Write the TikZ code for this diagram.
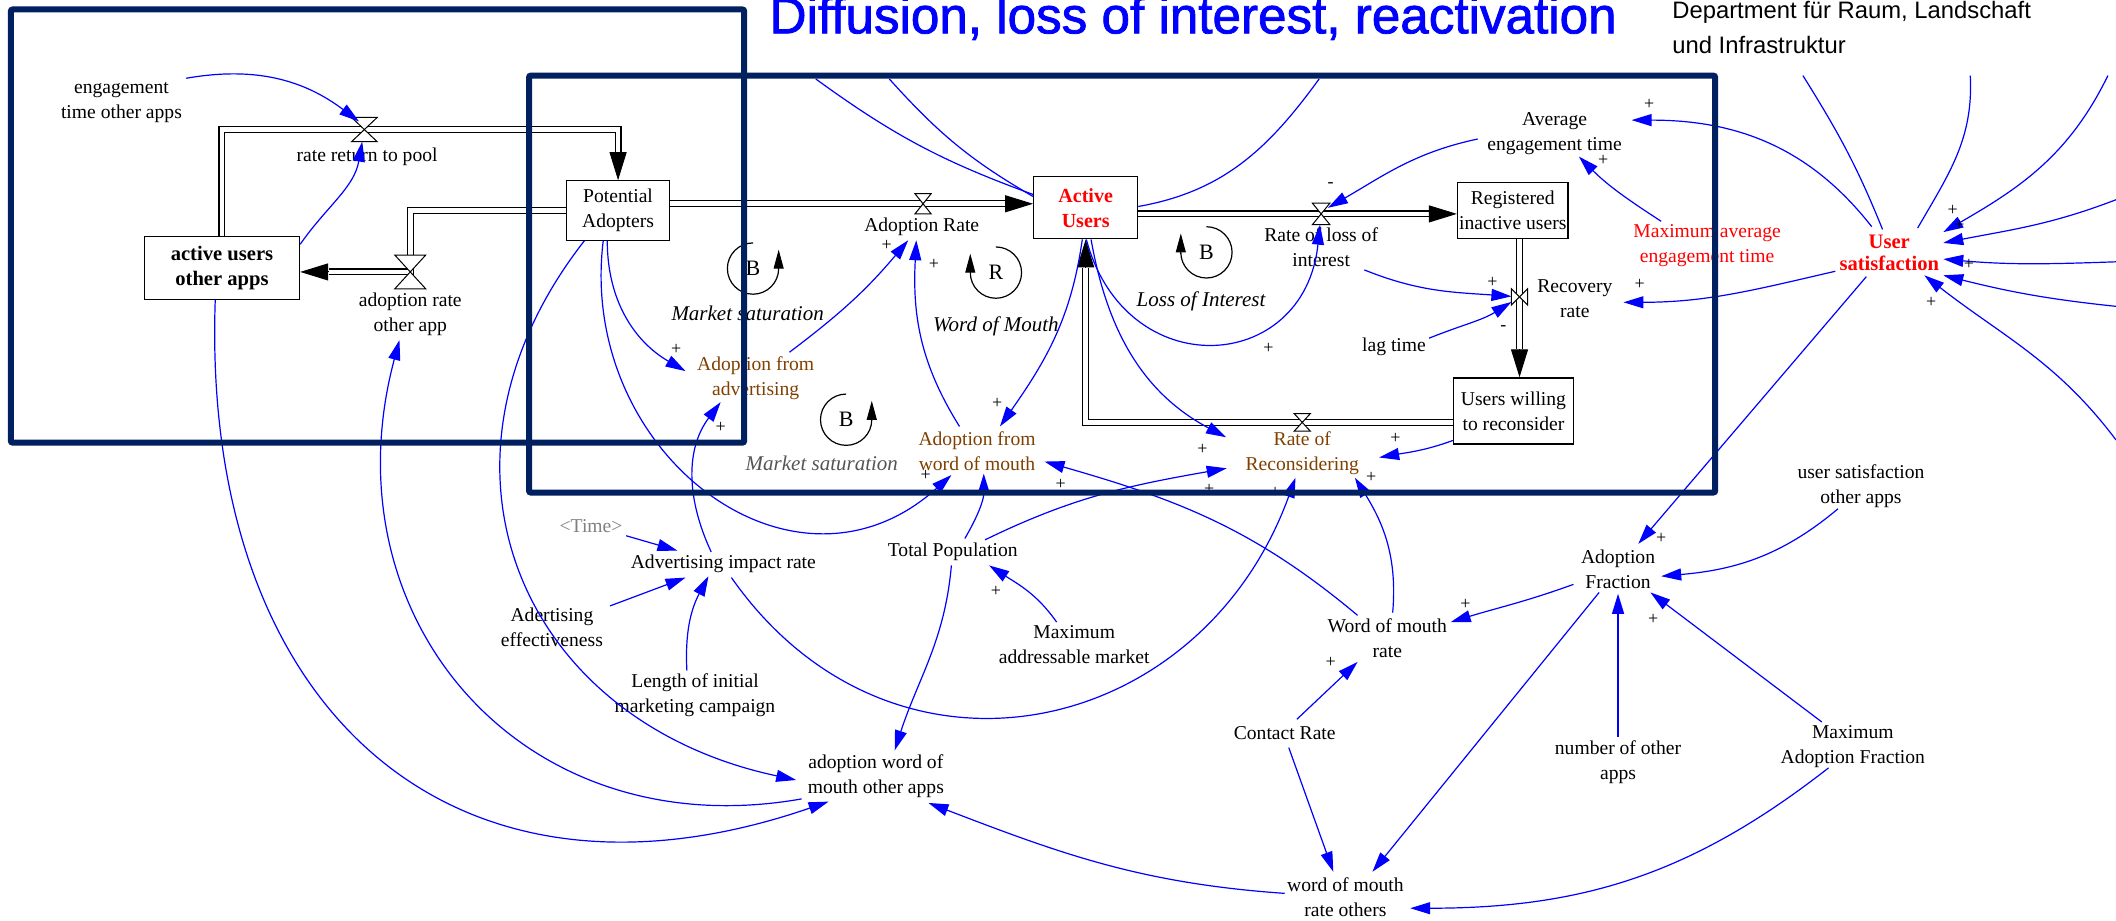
\documentclass[tikz,border=0pt]{standalone}
\usepackage{fontspec}
\setmainfont{Liberation Serif}
\newfontfamily\arialf{Liberation Sans}
\newfontfamily\titlef[FakeBold=1.5]{Liberation Sans}
\usetikzlibrary{arrows.meta,calc}
\definecolor{navyb}{RGB}{0,32,96}
\definecolor{brownv}{RGB}{128,64,0}
\definecolor{linkb}{RGB}{0,0,255}
\definecolor{timegray}{RGB}{128,128,128}
\definecolor{loopgray}{RGB}{85,85,85}
\definecolor{redv}{RGB}{255,0,0}
\tikzset{
 var/.style={font=\fontsize{9.8}{12.5}\selectfont, align=center, inner sep=1pt},
 stock/.style={draw, line width=0.6pt, align=center, inner sep=0pt, font=\fontsize{9.8}{12.5}\selectfont},
 lk/.style={draw=linkb, line width=0.6pt, -{Triangle[length=10pt,width=6pt]}},
 cl/.style={draw=linkb, line width=0.6pt},
 pipe/.style={draw=black, double=white, double distance=2.4pt, line width=0.55pt, line join=miter},
 ftip/.style={draw=black, line width=0.5pt, -{Triangle[length=14pt,width=8.5pt]}},
 valvebox/.style={inner sep=0pt, outer sep=0pt},
 valvest/.style={draw=black, fill=white, line width=0.5pt},
 pol/.style={font=\fontsize{9}{9}\selectfont, inner sep=0pt},
 looplbl/.style={font=\fontsize{10.5}{12}\selectfont\itshape, inner sep=0pt},
 loopltr/.style={font=\fontsize{11}{11}\selectfont, inner sep=0pt},
 looparc/.style={draw=black, line width=0.6pt},
 looptip/.style={draw=black, line width=0.5pt, -{Triangle[length=9.5pt,width=5pt]}},
 navybox/.style={draw=navyb, line width=3pt, rounded corners=1pt},
}
\begin{document}
\begin{tikzpicture}[x=0.67475pt, y=0.67475pt]
\useasboundingbox (0,0) rectangle (1568,-682);
\fill[white] (0,0) rectangle (1568,-682);

% ---------- title ----------
\node[anchor=base west, inner sep=0pt, text=blue, font=\titlef\fontsize{25.6}{30}\selectfont] (title) at (570,-24.7) {Diffusion, loss of interest, reactivation};
\node[anchor=base west, inner sep=0pt, font=\arialf\fontsize{11.9}{14}\selectfont] (dept1) at (1239,-13.6) {Department für Raum, Landschaft};
\node[anchor=base west, inner sep=0pt, font=\arialf\fontsize{11.9}{14}\selectfont] (dept2) at (1239,-39.5) {und Infrastruktur};

% ---------- stocks ----------
\node[stock, minimum width=77.6pt, minimum height=31.7pt, font=\fontsize{10.3}{12.5}\selectfont\bfseries] (auo) at (164.5,-198.5) {active users\\other apps};
\node[stock, minimum width=51.3pt, minimum height=29.7pt] (PA) at (458,-156) {Potential\\Adopters};
\node[stock, minimum width=52pt, minimum height=31pt, text=redv, font=\fontsize{10}{12.5}\selectfont\bfseries] (AU) at (804.5,-154) {Active\\Users};
\node[stock, minimum width=55.3pt, minimum height=28.3pt] (Reg) at (1121,-156) {Registered\\inactive users};
\node[stock, minimum width=60pt, minimum height=33pt] (UW) at (1121.5,-304.5) {Users willing\\to reconsider};

% ---------- variables ----------
\node[var] (eto) at (90,-76) {engagement\\time other apps};
\node[var] (rrp) at (272,-116) {rate return to pool};
\node[var] (adrO) at (304,-233) {adoption rate\\other app};
\node[var, text=brownv] (AfA) at (560,-280) {Adoption from\\advertising};
\node[var] (AR) at (683,-168) {Adoption Rate};
\node[var, text=brownv] (AfW) at (724,-334) {Adoption from\\word of mouth};
\node[var] (RLI) at (979,-183.5) {Rate of loss of\\interest};
\node[var] (RR) at (1167,-221) {Recovery\\rate};
\node[var] (lag) at (1033,-257) {lag time};
\node[var] (AET) at (1152,-99) {Average\\engagement time};
\node[var, text=redv] (MAET) at (1265,-182) {Maximum average\\engagement time};
\node[var, text=redv, font=\fontsize{10.3}{11}\selectfont\bfseries] (US) at (1400,-187) {User\\satisfaction};
\node[var, text=brownv] (RoR) at (965,-336) {Rate of\\Reconsidering};
\node[var, text=timegray] (Time) at (438,-390) {<Time>};
\node[var] (AIR) at (536,-418) {Advertising impact rate};
\node[var] (AE) at (409,-465) {Adertising\\effectiveness};
\node[var] (LIMC) at (515,-515) {Length of initial\\marketing campaign};
\node[var] (TP) at (706,-409) {Total Population};
\node[var] (MAM) at (796,-477.5) {Maximum\\addressable market};
\node[var] (AWO) at (649,-575.5) {adoption word of\\mouth other apps};
\node[var] (CR) at (952,-543) {Contact Rate};
\node[var] (WMR) at (1028,-473) {Word of mouth\\rate};
\node[var] (WMRO) at (997,-665) {word of mouth\\rate others};
\node[var] (USO) at (1379,-360) {user satisfaction\\other apps};
\node[var] (AF) at (1199,-422) {Adoption\\Fraction};
\node[var] (NOA) at (1199,-565) {number of other\\apps};
\node[var] (MAF) at (1373,-553) {Maximum\\Adoption Fraction};

% ---------- loop labels ----------
\node[looplbl] (MS1) at (554,-232.5) {Market saturation};
\node[looplbl] (WoM) at (738,-242) {Word of Mouth};
\node[looplbl, text=loopgray] (MS2) at (609,-343) {Market saturation};
\node[looplbl] (LoI) at (890,-223) {Loss of Interest};

% ---------- valves (positions) ----------
\node[valvebox, minimum width=12.8pt, minimum height=12.1pt] (vRRP) at (270,-96) {};
\node[valvebox, minimum width=15.5pt, minimum height=16.9pt] (vARO) at (304,-201.5) {};
\node[valvebox, minimum width=8.1pt, minimum height=10.1pt] (vAR) at (684,-151) {};
\node[valvebox, minimum width=8.8pt, minimum height=10.8pt] (vRLI) at (979,-158.5) {};
\node[valvebox, minimum width=8.1pt, minimum height=8.1pt] (vRecov) at (1126,-220) {};
\node[valvebox, minimum width=8.1pt, minimum height=8.8pt] (vRoR) at (965,-313) {};

% ---------- pipes (flows) ----------
\draw[pipe] (auo.north) |- (vRRP.center) -| ($(PA.north)+(0,21)$);
\draw[ftip] ($(PA.north)+(0,21)$) -- (PA.north);
\draw[pipe] (PA.west) -| (vARO.center) -- ($(auo.east)+(21,-3)$);
\draw[ftip] ($(auo.east)+(21,-3)$) -- ($(auo.east)+(0,-3)$);
\draw[pipe] ($(PA.east)+(0,5)$) -- ($(AU.west)+(-21,3)$);
\draw[ftip] ($(AU.west)+(-21,3)$) -- ($(AU.west)+(0,3)$);
\draw[pipe] ($(AU.east)+(0,-4.5)$) -- ($(Reg.west)+(-21,-2.5)$);
\draw[ftip] ($(Reg.west)+(-21,-2.5)$) -- ($(Reg.west)+(0,-2.5)$);
\draw[pipe] ($(Reg.south)+(5,0)$) -- ($(UW.north)+(4.5,21)$);
\draw[ftip] ($(UW.north)+(4.5,21)$) -- ($(UW.north)+(4.5,0)$);
\draw[pipe] ($(UW.west)+(0,-8.5)$) -| ($(AU.south)+(0,-21)$);
\draw[ftip] ($(AU.south)+(0,-21)$) -- (AU.south);

% ---------- valve glyphs ----------
\foreach \v in {vRRP,vARO,vAR,vRLI,vRoR}{
 \filldraw[valvest] (\v.north west) -- (\v.north east) -- (\v.center) -- cycle;
 \filldraw[valvest] (\v.south west) -- (\v.south east) -- (\v.center) -- cycle;
}
\filldraw[valvest] (vRecov.north west) -- (vRecov.south west) -- (vRecov.center) -- cycle;
\filldraw[valvest] (vRecov.north east) -- (vRecov.south east) -- (vRecov.center) -- cycle;

% ---------- loops ----------
\node[loopltr] (B1) at (558,-199) {B};
\draw[looparc] ($(B1)+(0,19)$) arc[start angle=90,end angle=360,radius=12.82pt];
\draw[looptip] ($(B1)+(19,-1)$) -- ++(0,15);
\node[loopltr] (R1) at (738,-202) {R};
\draw[looparc] ($(R1)+(0,19)$) arc[start angle=90,end angle=-180,radius=12.82pt];
\draw[looptip] ($(R1)+(-19,-1)$) -- ++(0,15);
\node[loopltr] (B2) at (627,-311) {B};
\draw[looparc] ($(B2)+(0,19)$) arc[start angle=90,end angle=360,radius=12.82pt];
\draw[looptip] ($(B2)+(19,-1)$) -- ++(0,15);
\node[loopltr] (B3) at (894,-187) {B};
\draw[looparc] ($(B3)+(0,19)$) arc[start angle=90,end angle=-180,radius=12.82pt];
\draw[looptip] ($(B3)+(-19,-1)$) -- ++(0,15);

% ---------- links ----------
\draw[lk] ($(eto)+(48,18)$) to[out=10,in=143] ($(vRRP)+(-4,6)$);
\draw[lk] ($(auo.east)+(0,17.5)$) to[out=55,in=-100] (vRRP);
\draw[lk] ($(auo.south)+(-5,0)$) to[out=-92,in=-161,looseness=1.3] ($(AWO)+(-35,-18.5)$);
\draw[lk] ($(AWO)+(-55,-16.5)$) to[out=190,in=-105,looseness=1.2] ($(adrO)+(-8,-19)$);
\draw[lk] ($(PA.south)+(-25,0)$) to[out=-128,in=168,looseness=1.25] ($(AWO)+(-59,-2.5)$);
\draw[lk] ($(PA.south)+(-8,0)$) to[out=-90,in=150] ($(AfA)+(-52,5)$);
\draw[lk] ($(AfA)+(25,19)$) to[out=37,in=-130] ($(AR)+(-10,-10)$);
\draw[lk] ($(AfW)+(-13,18)$) to[out=122,in=-93] ($(AR)+(-4,-10)$);
\draw[lk] ($(AU.south)+(-2.5,0)$) to[out=-98,in=55] ($(AfW)+(17,18)$);
\draw[lk] ($(AU.south)+(0.5,0)$) to[out=-75,in=-96,looseness=1.65] (vRLI);
\draw[lk] ($(AU.south)+(4,0)$) to[out=-80,in=152] ($(RoR)+(-56.5,12)$);
\draw[lk] ($(UW.south west)+(0,3)$) to[out=-160,in=10] ($(RoR)+(57,-3)$);
\draw[lk] ($(RLI)+(32,-16.5)$) to[out=-22,in=176] (vRecov);
\draw[lk] ($(lag)+(26,6.4)$) to[out=22,in=-148] (vRecov);
\draw[lk] ($(AET)+(-57,-4)$) to[out=192,in=30] ($(vRLI)+(5,4.5)$);
\draw[lk] ($(MAET)+(-34,18)$) to[out=147,in=-45] ($(AET)+(18,-17)$);
\draw[lk] ($(US)+(-13,19)$) to[out=128,in=0] ($(AET)+(57,10)$);
\draw[lk] ($(US)+(-40,-14)$) to[out=193,in=0] ($(RR)+(36,-3)$);
\draw[lk] ($(US)+(-17,-18)$) -- ($(AF)+(15,19)$);
\draw[lk] ($(AF)+(-33,-11)$) to[out=200,in=17] ($(WMR)+(47,12)$);
\draw[lk] ($(AF)+(-14,-17)$) -- ($(WMRO)+(20,19)$);
\draw[lk] ($(NOA)+(0,19)$) -- ($(AF)+(0,-18)$);
\draw[lk] ($(MAF)+(-23,18)$) -- ($(AF)+(24,-17)$);
\draw[lk] ($(USO)+(-17,-17)$) to[out=220,in=5] ($(AF)+(32,-5)$);
\draw[lk] ($(MAF)+(-18,-16)$) to[out=218,in=0] ($(WMRO)+(48,-8)$);
\draw[lk] ($(CR)+(9,10)$) -- ($(WMR)+(-22,-17.5)$);
\draw[lk] ($(CR)+(3,-11)$) -- ($(WMRO)+(-9,19)$);
\draw[lk] ($(WMRO)+(-45,3)$) to[out=176,in=-21] ($(AWO)+(39,-19.5)$);
\draw[lk] ($(TP)+(-1,-10)$) to[out=-95,in=72] ($(AWO)+(14,19.5)$);
\draw[lk] ($(TP)+(9,10)$) to[out=60,in=-90] ($(AfW)+(5,-17)$);
\draw[lk] ($(TP)+(24,9)$) to[out=26,in=-170] ($(RoR)+(-56,-11)$);
\draw[lk] ($(MAM)+(-13,16.5)$) to[out=125,in=-33] ($(TP)+(27,-10)$);
\draw[lk] ($(WMR)+(-22,17)$) to[out=140,in=-16] ($(AfW)+(50,-8)$);
\draw[lk] ($(WMR)+(4,19)$) to[out=85,in=-58] ($(RoR)+(39,-18)$);
\draw[lk] ($(AIR)+(6,-10)$) to[out=-55,in=-110,looseness=1.25] ($(RoR)+(-5,-18)$);
\draw[lk] ($(PA.south)+(-11,0)$) to[out=-97,in=-138,looseness=1.3] ($(AfW)+(-19,-18)$);
\draw[lk] ($(LIMC)+(-6,18)$) to[out=93,in=-118] ($(AIR)+(-11,-9)$);
\draw[lk] ($(AE)+(43,16)$) -- ($(AIR)+(-28,-10)$);
\draw[lk] ($(Time)+(26,-7)$) -- ($(AIR)+(-34,10)$);
\draw[lk] ($(AIR)+(-9,9)$) to[out=115,in=-127] ($(AfA)+(-26,-18)$);

% ---------- links running out of the frame ----------
\coordinate (t1) at (604.5,-58.5);
\coordinate (t2) at (659,-58.5);
\coordinate (t3) at (977.5,-58.5);
\coordinate (t4) at (1336,-56);
\coordinate (t5) at (1460,-56);
\coordinate (r1) at (1562,-56);
\coordinate (r2) at (1568,-148);
\coordinate (r3) at (1568,-194);
\coordinate (r4) at (1568,-227);
\coordinate (r5) at (1568,-326);
\draw[cl] ($(AU.north west)+(0,-13.5)$) to[out=160,in=-36] (t1);
\draw[cl] ($(AU.north west)+(0,-15)$) to[out=150,in=-48] (t2);
\draw[cl] ($(AU.east)+(0,1)$) to[out=10,in=-126] (t3);
\draw[cl] ($(US)+(-5,17)$) to[out=112,in=-58] (t4);
\draw[cl] ($(US)+(21,18)$) to[out=60,in=-87] (t5);
\draw[lk] (r1) to[out=-116,in=30] ($(US)+(40,15)$);
\draw[lk] (r2) to[out=201,in=11] ($(US)+(40,7)$);
\draw[lk] (r3) to[out=182,in=-5] ($(US)+(40,-5)$);
\draw[lk] (r4) to[out=174,in=-14] ($(US)+(40,-17)$);
\draw[lk] (r5) to[out=127,in=-38] ($(US)+(26,-17)$);

% ---------- polarities ----------
\foreach \p/\q in {501/259, 657/181.6, 692/195.6, 739/299, 940/258, 891/333, 1034/325, 1106/209.6, 1188/118.6, 1222/77, 1215/211, 1231/399, 1086/448, 1225/459, 986/491, 896/362.5, 738/438, 786/359, 1016/354, 945/365, 686/352, 534/317, 1447/156, 1452/167, 1459/196, 1431/224}
 \node[pol] at (\p,-\q) {+};
\node[pol] (m1) at (1114,-243) {-};
\node[pol] (m2) at (986,-137) {-};

% ---------- frames ----------
\draw[navybox] (8,-7) rectangle (551.5,-328);
\draw[navybox] (392,-56) rectangle (1271,-365);
\end{tikzpicture}
\end{document}
